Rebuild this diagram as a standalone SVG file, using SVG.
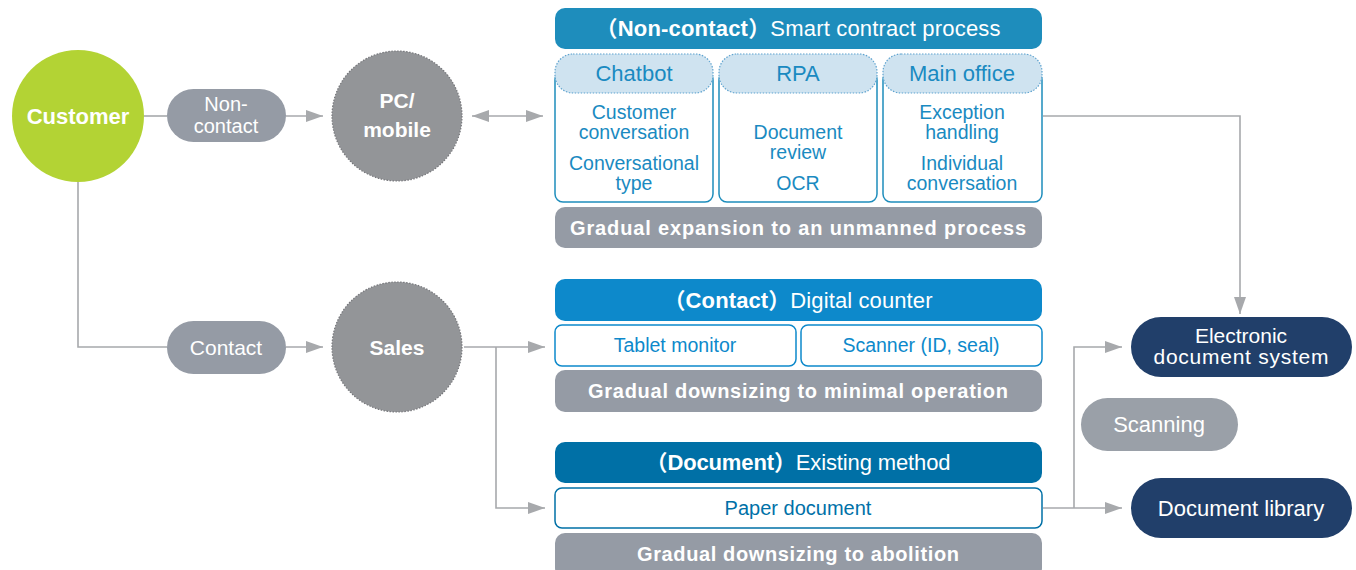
<svg xmlns="http://www.w3.org/2000/svg" width="1356" height="570" viewBox="0 0 1356 570">
<style>
text{font-family:"Liberation Sans","Noto Sans CJK KR",Arial,sans-serif;text-anchor:middle}
.w{fill:#ffffff}
.b{font-weight:bold}
.blue{fill:#1a8ac1;font-size:19.5px}
.hd{font-size:22px}
.dblue{fill:#0071a8;font-size:20px}
.pill{fill:#959ba5}
.gc{fill:#939598;stroke:#76777b;stroke-width:1.2;stroke-dasharray:1.5 1.5}
.bar{fill:#959ba5}
.box{fill:#ffffff;stroke-width:1.5}
.colh{fill:#cfe3f0;stroke:#5fa3cf;stroke-width:1.2;stroke-dasharray:1.5 1.5}
.navy{fill:#213f6a}
.con{fill:none;stroke:#a7a9ac;stroke-width:1.6}
.arr{marker-end:url(#ah)}
</style>
<defs>
<marker id="ah" markerUnits="userSpaceOnUse" markerWidth="18" markerHeight="13" refX="17" refY="6" orient="auto-start-reverse">
<path d="M0,0 L17,6 L0,12 z" fill="#a7a9ac"/>
</marker>
</defs>

<g id="connectors">
<path class="con" d="M144,116 H167"/>
<path class="con arr" d="M286,116 H323"/>
<path class="con arr" d="M472,116 H543" style="marker-start:url(#ah)"/>
<path class="con" d="M78,182 V347 H167"/>
<path class="con arr" d="M286,347 H323"/>
<path class="con arr" d="M464,347 H545"/>
<path class="con arr" d="M496,347 V508 H545"/>
<path class="con arr" d="M1043,116 H1240 V314"/>
<path class="con arr" d="M1043,508 H1122"/>
<path class="con arr" d="M1074,508 V347 H1122"/>
</g>

<g id="customer">
<circle cx="78" cy="116" r="66" fill="#b3d334"/>
<text class="w b" x="78" y="124" font-size="22">Customer</text>
</g>

<g id="noncontact">
<rect class="pill" x="167" y="89" width="119" height="53" rx="26.5"/>
<text class="w" x="226" y="111" font-size="20">Non-</text>
<text class="w" x="226" y="133" font-size="20">contact</text>
</g>

<g id="pcmobile">
<circle class="gc" cx="397" cy="116" r="65"/>
<text class="w b" x="397" y="108" font-size="21">PC/</text>
<text class="w b" x="397" y="137" font-size="21">mobile</text>
</g>

<g id="contact">
<rect class="pill" x="167" y="321" width="119" height="53" rx="26.5"/>
<text class="w" x="226" y="355" font-size="21">Contact</text>
</g>

<g id="sales">
<circle class="gc" cx="397" cy="347" r="65"/>
<text class="w b" x="397" y="355" font-size="21">Sales</text>
</g>

<g id="smart-process">
<rect x="555" y="8" width="487" height="41" rx="10" fill="#1e8dbc"/>
<text class="w" x="798" y="36" font-size="22" textLength="405" lengthAdjust="spacing"><tspan class="b">（Non-contact）</tspan>Smart contract process</text>

<rect class="box" x="555" y="72" width="158" height="130" rx="8" stroke="#1e8dbc"/>
<rect class="colh" x="555" y="54" width="158" height="39" rx="18"/>
<text class="blue hd" x="634" y="81">Chatbot</text>
<text class="blue" x="634" y="119">Customer</text>
<text class="blue" x="634" y="139">conversation</text>
<text class="blue" x="634" y="170">Conversational</text>
<text class="blue" x="634" y="190">type</text>

<rect class="box" x="719" y="72" width="158" height="130" rx="8" stroke="#1e8dbc"/>
<rect class="colh" x="719" y="54" width="158" height="39" rx="18"/>
<text class="blue hd" x="798" y="81">RPA</text>
<text class="blue" x="798" y="139">Document</text>
<text class="blue" x="798" y="159">review</text>
<text class="blue" x="798" y="190">OCR</text>

<rect class="box" x="883" y="72" width="159" height="130" rx="8" stroke="#1e8dbc"/>
<rect class="colh" x="883" y="54" width="159" height="39" rx="18"/>
<text class="blue hd" x="962" y="81">Main office</text>
<text class="blue" x="962" y="119">Exception</text>
<text class="blue" x="962" y="139">handling</text>
<text class="blue" x="962" y="170">Individual</text>
<text class="blue" x="962" y="190">conversation</text>

<rect class="bar" x="555" y="207" width="487" height="41" rx="10"/>
<text class="w b" x="798" y="235" font-size="20" textLength="456" lengthAdjust="spacing">Gradual expansion to an unmanned process</text>
</g>

<g id="digital-counter">
<rect x="555" y="279" width="487" height="42" rx="10" fill="#0d89cb"/>
<text class="w" x="798" y="308" font-size="22" textLength="269" lengthAdjust="spacing"><tspan class="b">（Contact）</tspan>Digital counter</text>
<rect class="box" x="555" y="325" width="241" height="41" rx="7" stroke="#0d89cb"/>
<text class="blue" x="675" y="352" font-size="20" style="fill:#0d89cb">Tablet monitor</text>
<rect class="box" x="801" y="325" width="241" height="41" rx="7" stroke="#0d89cb"/>
<text class="blue" x="921" y="352" font-size="20" style="fill:#0d89cb">Scanner (ID, seal)</text>
<rect class="bar" x="555" y="370" width="487" height="42" rx="10"/>
<text class="w b" x="798" y="398" font-size="20" textLength="420" lengthAdjust="spacing">Gradual downsizing to minimal operation</text>
</g>

<g id="existing-method">
<rect x="555" y="442" width="487" height="41" rx="10" fill="#0070a6"/>
<text class="w" x="798" y="470" font-size="22" textLength="305" lengthAdjust="spacing"><tspan class="b">（Document）</tspan>Existing method</text>
<rect class="box" x="555" y="488" width="487" height="40" rx="7" stroke="#0070a6"/>
<text class="dblue" x="798" y="515">Paper document</text>
<rect class="bar" x="555" y="533" width="487" height="45" rx="10"/>
<text class="w b" x="798" y="561" font-size="20" textLength="322" lengthAdjust="spacing">Gradual downsizing to abolition</text>
</g>

<g id="electronic-document-system">
<rect class="navy" x="1131" y="317" width="221" height="60" rx="30"/>
<text class="w" x="1241" y="343" font-size="21">Electronic</text>
<text class="w" x="1241" y="364" font-size="21" textLength="175" lengthAdjust="spacing">document system</text>
</g>

<g id="scanning">
<rect x="1081" y="398" width="157" height="53" rx="26.5" fill="#9aa0a8"/>
<text class="w" x="1159" y="432" font-size="22">Scanning</text>
</g>

<g id="document-library">
<rect class="navy" x="1131" y="478" width="221" height="60" rx="30"/>
<text class="w" x="1241" y="516" font-size="22">Document library</text>
</g>
</svg>
